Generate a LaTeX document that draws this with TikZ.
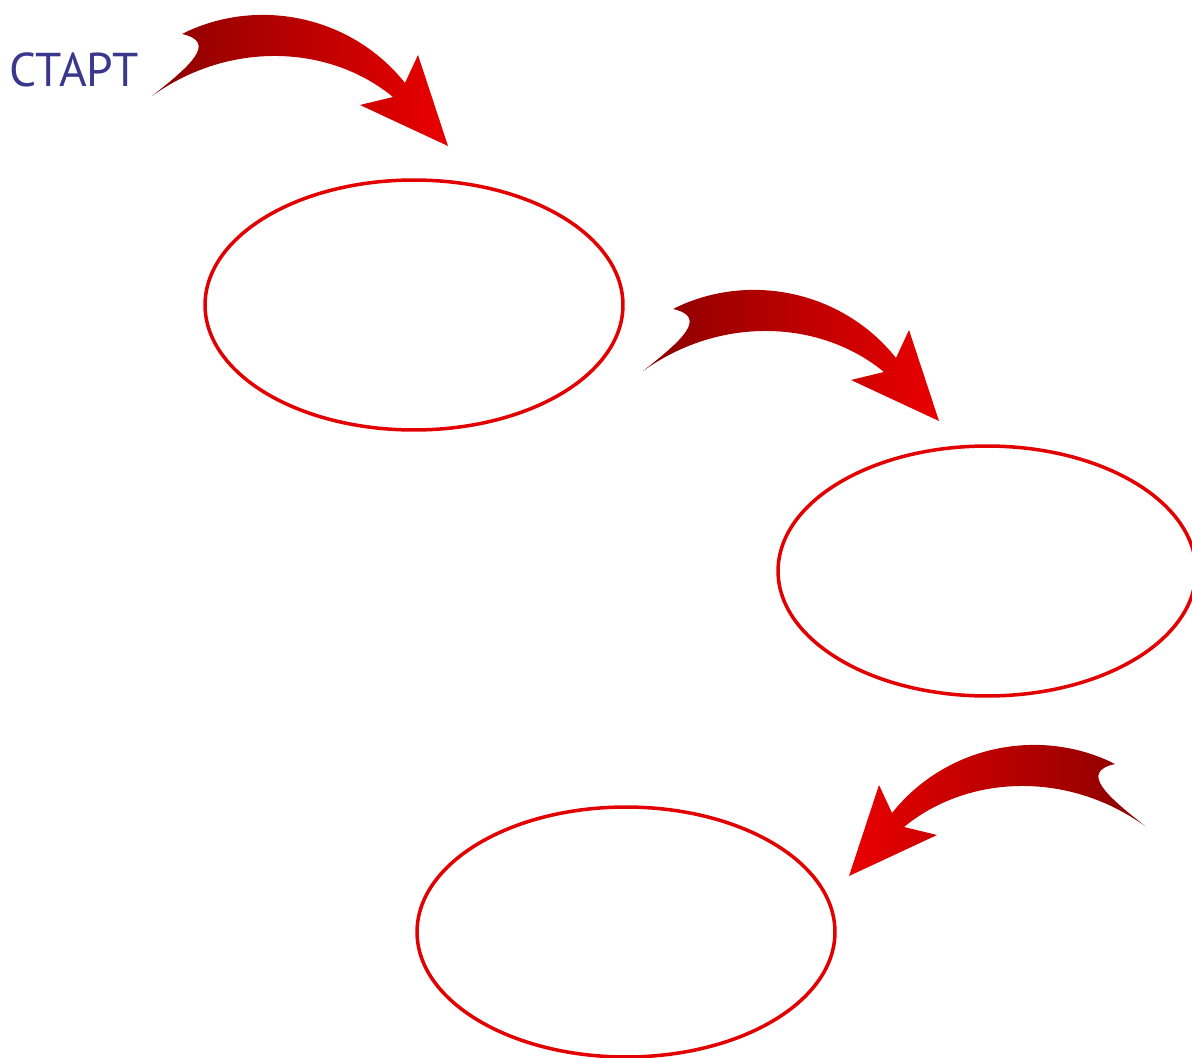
\documentclass[tikz,border=0pt]{standalone}
\usepackage{fontspec}
\newfontfamily\startfont{PT Sans}
\usetikzlibrary{shapes.geometric}
\definecolor{ringred}{RGB}{226,0,0}
\definecolor{darkarrow}{RGB}{138,0,0}
\definecolor{brightarrow}{RGB}{234,0,0}
\definecolor{startblue}{RGB}{58,56,140}
% bent arrow, drawn in pixel units; #1 left colour, #2 right colour
\newcommand{\bentarrow}[2]{%
  \shade[left color=#1,right color=#2] (182,34) .. controls (255,-3) and (350,14) .. (405,83)
    -- (418,55) -- (448,146) -- (360,105) -- (393,97)
    .. controls (330,45) and (230,40) .. (152,96)
    .. controls (190,66) and (218,42) .. (182,34) -- cycle;}

\begin{document}
\begin{tikzpicture}[x=0.02cm,y=-0.02cm,
    ring/.style={ellipse,draw=ringred,line width=2pt,minimum width=8.36cm,minimum height=5cm,inner sep=0pt}]
  \useasboundingbox (0,0) rectangle (1192,1057);
  \node (start) [anchor=base west,inner sep=0pt,text=startblue,font=\startfont\fontsize{27}{30}\selectfont] at (9,87) {СТАРТ};
  \node (ringA) [ring] at (414,305) {};
  \node (ringB) [ring] at (987,571) {};
  \node (ringC) [ring] at (626,932) {};
  % arrows
  \bentarrow{darkarrow}{brightarrow}
  \begin{scope}[shift={(491,275)}]
    \bentarrow{darkarrow}{brightarrow}
  \end{scope}
  \begin{scope}[shift={(1297,730)},xscale=-1]
    \bentarrow{brightarrow}{darkarrow}
  \end{scope}
\end{tikzpicture}
\end{document}
